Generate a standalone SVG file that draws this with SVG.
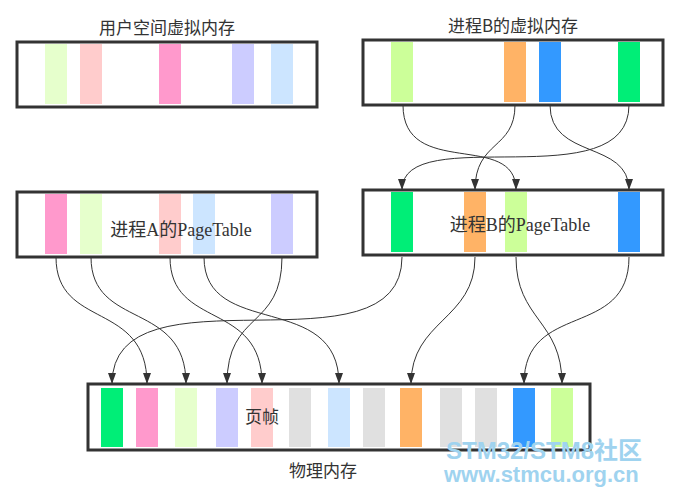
<svg xmlns="http://www.w3.org/2000/svg" width="676" height="494" viewBox="0 0 676 494">
<style>
.box{fill:#fff;stroke:#333;stroke-width:3}
.t{font-family:"Liberation Serif","Noto Sans CJK SC",serif;font-size:18px;fill:#333}
.s{font-family:"Noto Sans CJK SC",sans-serif;font-size:17px;fill:#333}
.c{fill:none;stroke:#333;stroke-width:1}
</style>
<defs><marker id="a" markerWidth="11" markerHeight="8" refX="11" refY="4" orient="auto" markerUnits="userSpaceOnUse" viewBox="0 0 11 8"><path d="M0,0 L11,4 L0,8 Z" fill="#333"/></marker></defs>
<rect width="676" height="494" fill="#fff"/>
<g id="uvm">
<text class="s" x="167" y="34" text-anchor="middle">用户空间虚拟内存</text>
<rect class="box" x="17" y="42" width="300" height="65"/>
<rect x="45" y="44" width="22" height="60" fill="#e6ffcc"/>
<rect x="80" y="44" width="22" height="60" fill="#ffcccc"/>
<rect x="159" y="44" width="22" height="60" fill="#ff99cc"/>
<rect x="232" y="44" width="22" height="60" fill="#ccccff"/>
<rect x="271" y="44" width="22" height="60" fill="#cce5ff"/>
</g>
<g id="bvm">
<text class="s" x="513" y="32" text-anchor="middle">进程B的虚拟内存</text>
<rect class="box" x="363" y="40" width="300" height="65"/>
<rect x="391" y="42" width="22" height="60" fill="#ccff99"/>
<rect x="504" y="42" width="22" height="60" fill="#ffb366"/>
<rect x="539" y="42" width="22" height="60" fill="#3399ff"/>
<rect x="618" y="42" width="22" height="60" fill="#00ee77"/>
</g>
<g id="apt">
<rect class="box" x="17" y="192" width="300" height="65"/>
<rect x="45" y="194" width="22" height="60" fill="#ff99cc"/>
<rect x="80" y="194" width="22" height="60" fill="#e6ffcc"/>
<rect x="159" y="194" width="22" height="60" fill="#ffcccc"/>
<rect x="193" y="194" width="22" height="60" fill="#cce5ff"/>
<rect x="271" y="194" width="22" height="60" fill="#ccccff"/>
<text class="t" x="181" y="236" text-anchor="middle">进程A的PageTable</text>
</g>
<g id="bpt">
<rect class="box" x="363" y="190" width="300" height="65"/>
<rect x="391" y="192" width="22" height="60" fill="#00ee77"/>
<rect x="464" y="192" width="22" height="60" fill="#ffb366"/>
<rect x="505" y="192" width="22" height="60" fill="#ccff99"/>
<rect x="618" y="192" width="22" height="60" fill="#3399ff"/>
<text class="t" x="520" y="231" text-anchor="middle">进程B的PageTable</text>
</g>
<g id="phys">
<rect class="box" x="88" y="384" width="502" height="66"/>
<rect x="101" y="388" width="22" height="59" fill="#00ee77"/>
<rect x="136" y="388" width="22" height="59" fill="#ff99cc"/>
<rect x="175" y="388" width="22" height="59" fill="#e6ffcc"/>
<rect x="216" y="388" width="22" height="59" fill="#ccccff"/>
<rect x="251" y="388" width="22" height="59" fill="#ffcccc"/>
<rect x="289" y="388" width="22" height="59" fill="#e0e0e0"/>
<rect x="328" y="388" width="22" height="59" fill="#cce5ff"/>
<rect x="363" y="388" width="22" height="59" fill="#e0e0e0"/>
<rect x="400" y="388" width="22" height="59" fill="#ffb366"/>
<rect x="440" y="388" width="22" height="59" fill="#e0e0e0"/>
<rect x="475" y="388" width="22" height="59" fill="#e0e0e0"/>
<rect x="513" y="388" width="22" height="59" fill="#3399ff"/>
<rect x="551" y="388" width="22" height="59" fill="#ccff99"/>
<text class="s" x="262" y="423" text-anchor="middle" font-size="14">页帧</text>
<text class="s" x="323" y="477" text-anchor="middle">物理内存</text>
</g>
<g id="connectors">
<path class="c" marker-end="url(#a)" d="M403,105 C403,180 516,130 516,190"/>
<path class="c" marker-end="url(#a)" d="M515,105 C515,150 475,140 475,190"/>
<path class="c" marker-end="url(#a)" d="M550,105 C550,160 629,140 629,190"/>
<path class="c" marker-end="url(#a)" d="M629,105 C629,200 402,120 402,190"/>
<path class="c" marker-end="url(#a)" d="M56,257 C56,330 147,300 147,384"/>
<path class="c" marker-end="url(#a)" d="M91,257 C91,330 186,300 186,384"/>
<path class="c" marker-end="url(#a)" d="M170,257 C170,330 262,300 262,384"/>
<path class="c" marker-end="url(#a)" d="M204,257 C204,340 339,290 339,384"/>
<path class="c" marker-end="url(#a)" d="M282,257 C282,330 227,310 227,384"/>
<path class="c" marker-end="url(#a)" d="M402,257 C402,380 112,260 112,384"/>
<path class="c" marker-end="url(#a)" d="M475,257 C475,320 411,320 411,384"/>
<path class="c" marker-end="url(#a)" d="M516,257 C516,320 562,320 562,384"/>
<path class="c" marker-end="url(#a)" d="M629,257 C629,340 524,300 524,384"/>
</g>
<g id="watermark" font-family="Liberation Sans,sans-serif" font-weight="bold" fill="#9fd3ef">
<text x="446" y="459" font-size="24" font-family="Liberation Sans,Noto Sans CJK SC,sans-serif">STM32/STM8社区</text>
<text x="444" y="482" font-size="22">www.stmcu.org.cn</text>
</g>
</svg>
